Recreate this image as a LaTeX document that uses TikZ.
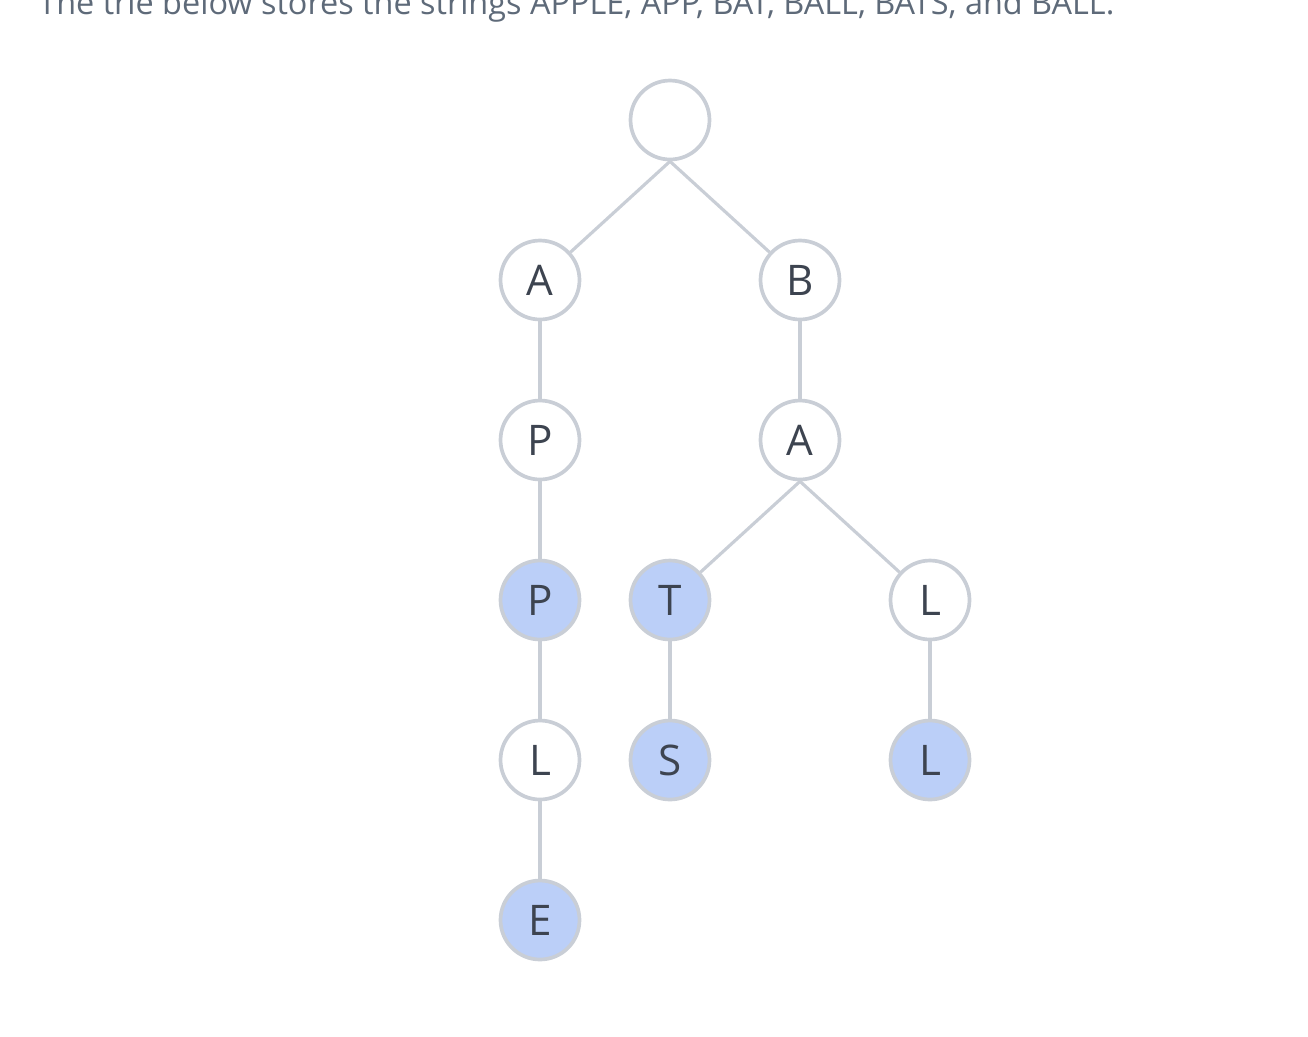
\documentclass[tikz,border=0pt]{standalone}
\usepackage{fontspec}
\setmainfont{Open Sans}
\usetikzlibrary{positioning}
\definecolor{edgegray}{HTML}{C9CED6}
\definecolor{leafblue}{HTML}{BBCFF8}
\definecolor{lettergray}{HTML}{3D4450}
\definecolor{captiongray}{HTML}{5E6A79}

\begin{document}
\begin{tikzpicture}[x=0.02cm,y=-0.02cm,
    trienode/.style={circle,draw=edgegray,line width=2.1pt,fill=white,
      minimum size=1.58cm,inner sep=0pt,text=lettergray,
      font=\fontsize{24}{28}\selectfont},
    wordend/.style={trienode,fill=leafblue},
    trieedge/.style={draw=edgegray,line width=1.8pt}]
    \useasboundingbox (0,0) rectangle (1308,1036);

    % Caption (cut at the top)
    \node[anchor=base west,inner sep=0pt,text=captiongray,
      font=\fontsize{18.45}{22}\selectfont] (caption) at (38,14)
      {The trie below stores the strings APPLE, APP, BAT, BALL, BATS, and BALL.};

    % Nodes
    \node[trienode] (root) at (670,120) {};
    \node[trienode] (a1) at (540,280) {A};
    \node[trienode] (b1) at (800,280) {B};
    \node[trienode] (p1) at (540,440) {P};
    \node[trienode] (a2) at (800,440) {A};
    \node[wordend] (p2) at (540,600) {P};
    \node[wordend] (t1) at (670,600) {T};
    \node[trienode] (l1) at (930,600) {L};
    \node[trienode] (l2) at (540,760) {L};
    \node[wordend] (s1) at (670,760) {S};
    \node[wordend] (l3) at (930,760) {L};
    \node[wordend] (e1) at (540,920) {E};

    % Edges
    \draw[trieedge] (root.south) -- (a1);
    \draw[trieedge] (root.south) -- (b1);
    \draw[trieedge] (a1) -- (p1);
    \draw[trieedge] (p1) -- (p2);
    \draw[trieedge] (p2) -- (l2);
    \draw[trieedge] (l2) -- (e1);
    \draw[trieedge] (b1) -- (a2);
    \draw[trieedge] (a2.south) -- (t1);
    \draw[trieedge] (a2.south) -- (l1);
    \draw[trieedge] (t1) -- (s1);
    \draw[trieedge] (l1) -- (l3);
\end{tikzpicture}
\end{document}
